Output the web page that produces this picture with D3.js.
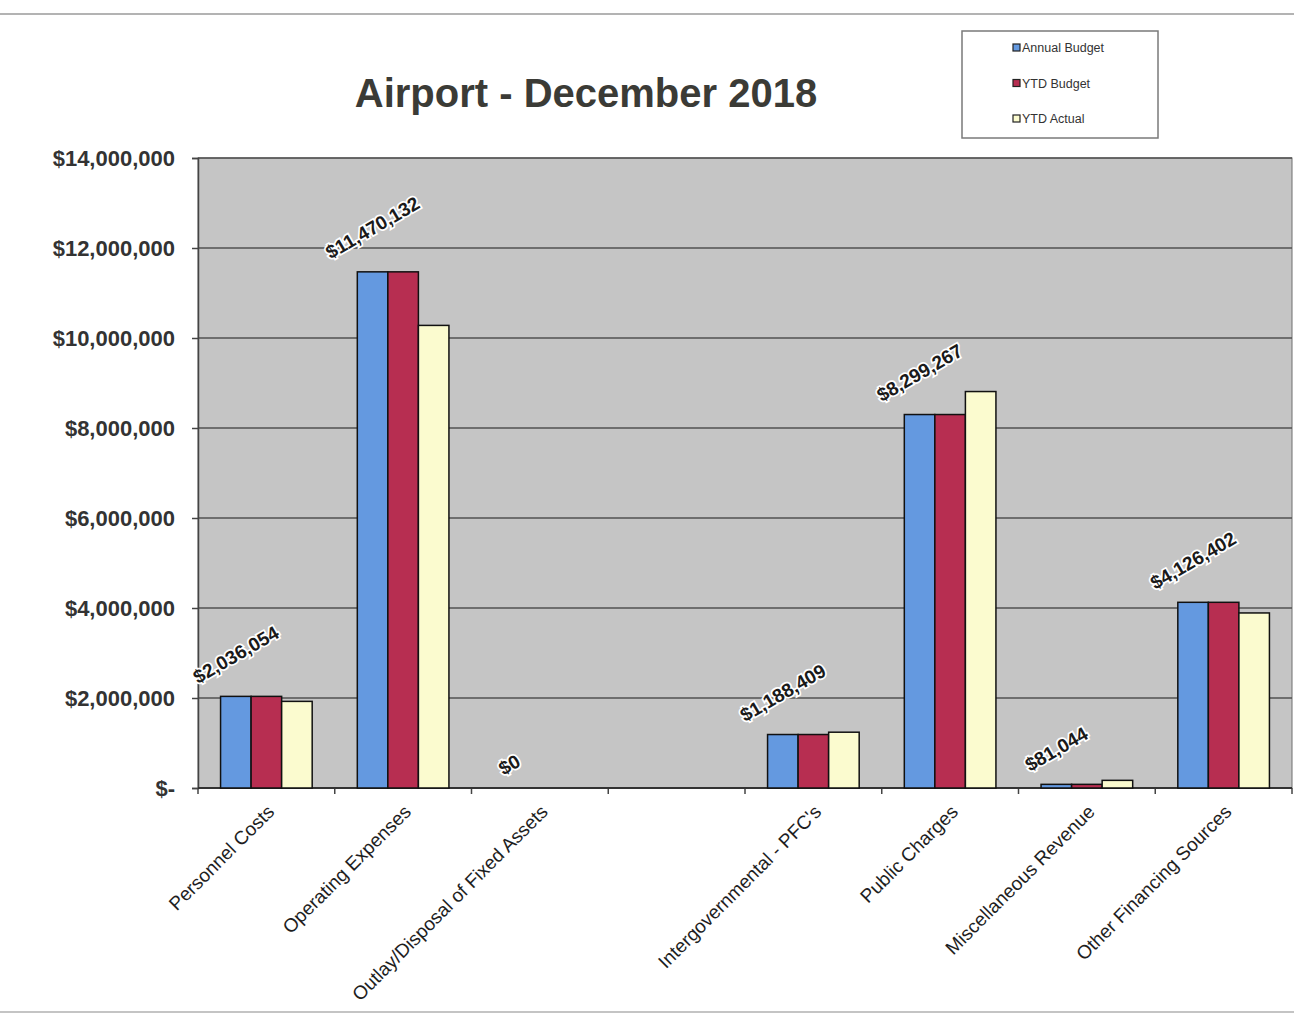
<!DOCTYPE html>
<html><head><meta charset="utf-8">
<script src="https://cdn.jsdelivr.net/npm/d3@7"></script>
<style>body{margin:0;background:#fff}svg{display:block}</style>
</head><body>
<svg id="chart" width="1294" height="1016"></svg>
<script>
const categories = ["Personnel Costs","Operating Expenses","Outlay/Disposal of Fixed Assets","","Intergovernmental - PFC's","Public Charges","Miscellaneous Revenue","Other Financing Sources"];
const seriesNames = ["Annual Budget","YTD Budget","YTD Actual"];
const annualBudget = [2036054, 11470132, 0, null, 1188409, 8299267, 81044, 4126402];
const ytdBudget    = [2036054, 11470132, 0, null, 1188409, 8299267, 81044, 4126402];
const ytdActual    = [1925000, 10280000, 0, null, 1240000, 8810000, 170000, 3890000];
const valueLabels  = ["$2,036,054","$11,470,132","$0","","$1,188,409","$8,299,267","$81,044","$4,126,402"];
const yTicks       = [0, 2000000, 4000000, 6000000, 8000000, 10000000, 12000000, 14000000];
const yTickLabels  = ["$-","$2,000,000","$4,000,000","$6,000,000","$8,000,000","$10,000,000","$12,000,000","$14,000,000"];
const seriesColors = ["#6499e0","#b72e51","#fbfbcf"];
const titleText = "Airport - December 2018";

const svg = d3.select("#chart");
const W = 1294, H = 1016;
const plot = {left: 198, right: 1292, top: 158, bottom: 788};
const seriesData = [annualBudget, ytdBudget, ytdActual];
const FONT = "Liberation Sans, Arial, sans-serif";

// outer chart border lines
svg.append("line").attr("x1",0).attr("x2",W).attr("y1",14).attr("y2",14).attr("stroke","#9a9a9a").attr("stroke-width",1.5);
svg.append("line").attr("x1",0).attr("x2",W).attr("y1",1012).attr("y2",1012).attr("stroke","#b0b0b0").attr("stroke-width",1.5);

const x0 = d3.scaleBand().domain(d3.range(categories.length)).range([plot.left, plot.right]).paddingInner(0.33).paddingOuter(0.165);
const x1 = d3.scaleBand().domain(d3.range(seriesNames.length)).range([0, x0.bandwidth()]);
const y = d3.scaleLinear().domain([0, 14000000]).range([plot.bottom, plot.top]);

// plot background
svg.append("rect").attr("x",plot.left).attr("y",plot.top).attr("width",plot.right-plot.left).attr("height",plot.bottom-plot.top)
  .attr("fill","#c5c5c5").attr("stroke","#6e6e6e").attr("stroke-width",1);

// gridlines
svg.append("g").selectAll("line").data(yTicks.slice(1)).join("line")
  .attr("x1",plot.left).attr("x2",plot.right).attr("y1",d=>y(d)).attr("y2",d=>y(d))
  .attr("stroke","#505050").attr("stroke-width",1.5);

// y axis
const yAxis = d3.axisLeft(y).tickValues(yTicks).tickSize(6).tickPadding(17).tickFormat((d,i)=>yTickLabels[i]);
const gy = svg.append("g").attr("transform",`translate(${plot.left},0)`).call(yAxis);
gy.select(".domain").attr("stroke","#444").attr("stroke-width",1.5);
gy.selectAll(".tick line").attr("stroke","#444").attr("stroke-width",1.5);
gy.selectAll("text").attr("font-family",FONT).attr("font-size",22).attr("font-weight","bold").attr("fill","#333");

// x axis ticks at band boundaries
const boundaries = d3.range(categories.length + 1).map(i => plot.left + i * x0.step());
svg.append("g").selectAll("line").data(boundaries).join("line")
  .attr("x1",d=>d).attr("x2",d=>d).attr("y1",plot.bottom).attr("y2",plot.bottom+6)
  .attr("stroke","#444").attr("stroke-width",1.5);
svg.append("line").attr("x1",plot.left).attr("x2",plot.right).attr("y1",plot.bottom).attr("y2",plot.bottom).attr("stroke","#333").attr("stroke-width",2);

// bars
const groups = svg.append("g").selectAll("g").data(categories.map((c,i)=>i).filter(i=>categories[i] !== "")).join("g")
  .attr("transform", i => `translate(${x0(i)},0)`);
groups.selectAll("rect").data(i => seriesData.map((s,k)=>({k, v: s[i]}))).join("rect")
  .attr("x", d => x1(d.k)).attr("width", x1.bandwidth())
  .attr("y", d => y(Math.max(0,d.v))).attr("height", d => Math.abs(y(d.v) - y(0)))
  .attr("fill", d => seriesColors[d.k]).attr("stroke","#111").attr("stroke-width",1.5);

// value labels
const lblG = svg.append("g");
categories.forEach((c,i) => {
  if (c === "") return;
  const cx = x0(i) + x1(0) + x1.bandwidth()/2;
  const top = y(annualBudget[i]);
  const t = lblG.append("text").text(valueLabels[i])
    .attr("font-family",FONT).attr("font-size",19).attr("font-weight","bold")
    .attr("fill","#1a1a1a").attr("stroke","#fff").attr("stroke-width",3.5).attr("paint-order","stroke")
    .attr("text-anchor","middle").attr("dy","0.35em");
  const L = t.node().getComputedTextLength();
  t.attr("transform", `translate(${cx},${top - 18 - L/4}) rotate(-30)`);
});

// category labels
svg.append("g").selectAll("text").data(categories.map((c,i)=>({c,i})).filter(d=>d.c!=="")).join("text")
  .text(d=>d.c)
  .attr("font-family",FONT).attr("font-size",19).attr("fill","#1e1e1e")
  .attr("text-anchor","end")
  .attr("transform", d => `translate(${x0(d.i) + x0.bandwidth()/2 + 9},${plot.bottom + 25}) rotate(-45)`);

// title
svg.append("text").text(titleText).attr("x",586).attr("y",107).attr("text-anchor","middle")
  .attr("font-family",FONT).attr("font-size",40).attr("font-weight","bold").attr("fill","#3b3b36");

// legend
const lg = svg.append("g");
lg.append("rect").attr("x",962).attr("y",31).attr("width",196).attr("height",107).attr("fill","#fff").attr("stroke","#7a7a7a").attr("stroke-width",1.5);
const legY = d3.scalePoint().domain(seriesNames).range([48, 119]);
lg.selectAll("rect.sw").data(seriesNames).join("rect").attr("class","sw")
  .attr("x",1013).attr("y",d=>legY(d)-4).attr("width",7).attr("height",7)
  .attr("fill",(d,i)=>seriesColors[i]).attr("stroke","#222").attr("stroke-width",1.2);
lg.selectAll("text").data(seriesNames).join("text").text(d=>d)
  .attr("x",1022).attr("y",d=>legY(d)).attr("dy","0.35em")
  .attr("font-family",FONT).attr("font-size",12.5).attr("fill","#333");
</script>
</body></html>
